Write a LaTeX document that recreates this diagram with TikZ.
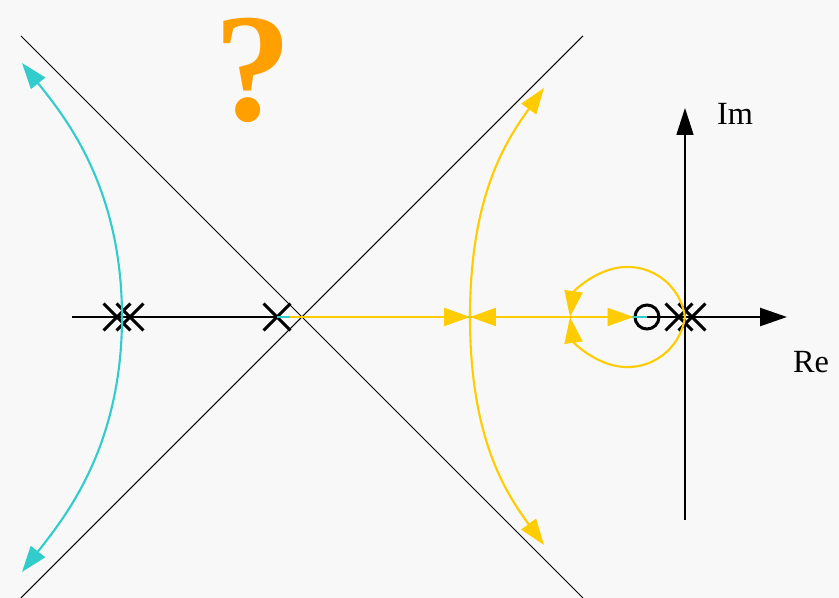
\documentclass[tikz,border=0pt]{standalone}
\usepackage{fontspec}
\setmainfont{Liberation Serif}
\usepackage{tikz}
\usetikzlibrary{arrows.meta,shapes.misc}
\definecolor{rl-bg}{HTML}{F8F8F8}
\definecolor{rl-cyan}{HTML}{33CCCC}
\definecolor{rl-yellow}{HTML}{FFCC00}
\definecolor{rl-orange}{HTML}{FF9F00}

\begin{document}
\begin{tikzpicture}[x=0.02cm, y=0.02cm,
    pole/.style={draw, cross out, line width=1.7pt, minimum size=0.48cm, inner sep=0pt},
    zero/.style={draw, circle, line width=1.7pt, minimum size=0.48cm, inner sep=0pt},
    branch/.style={line width=1.2pt, -{Triangle[length=0.52cm, width=0.36cm]}},
    axislabel/.style={font=\fontsize{18.4}{22}\selectfont, anchor=base}]
    \fill[rl-bg] (-685,-281) rectangle (154,317);
    \useasboundingbox (-685,-281) rectangle (154,317);

    % asymptotes
    \draw[line width=0.6pt] (-664,281) -- (-102,-281);
    \draw[line width=0.6pt] (-102,281) -- (-664,-281);

    % axes
    \draw[line width=1.4pt, -{Triangle[length=0.54cm, width=0.36cm]}] (-613,0) -- (102,0);
    \draw[line width=0.9pt, -{Triangle[length=0.54cm, width=0.34cm]}] (0,-203) -- (0,209);
    \node[axislabel] (im) at (50,192) {Im};
    \node[axislabel] (re) at (126,-56) {Re};

    % poles and zero
    \node[pole] (p1) at (-568,0) {};
    \node[pole] (p2) at (-555,0) {};
    \node[pole] (p3) at (-408,0) {};
    \node[pole] (p4) at (-6,0) {};
    \node[pole] (p5) at (7,0) {};
    \node[zero] (z) at (-38,0) {};

    \coordinate (o) at (0,0);
    \coordinate (bA) at (-563,0);
    \coordinate (bB) at (-215,0);
    \coordinate (bC) at (-115,0);
    \coordinate (ys) at (-395,0);
    \coordinate (ct) at (-663,254);
    \coordinate (cb) at (-663,-255);
    \coordinate (yt) at (-141,229);
    \coordinate (yb) at (-141,-228);

    % real axis branches
    \draw[rl-cyan, line width=1.2pt] (p3.center) -- (z.center);
    \draw[rl-yellow, branch] (ys) -- (bB);
    \draw[rl-yellow, branch] (bC) -- (bB);
    \draw[rl-yellow, branch] (bC) -- (z.west);

    % complex branches
    \draw[rl-cyan, branch] (bA) .. controls (-563,130) and (-620,200) .. (ct);
    \draw[rl-cyan, branch] (bA) .. controls (-563,-130) and (-620,-200) .. (cb);
    \draw[rl-yellow, branch] (bB) .. controls (-215,120) and (-180,175) .. (yt);
    \draw[rl-yellow, branch] (bB) .. controls (-215,-120) and (-180,-175) .. (yb);
    \draw[rl-yellow, branch] (o) arc[start angle=7.9, end angle=172.1, radius=58.05];
    \draw[rl-yellow, branch] (o) arc[start angle=-7.9, end angle=-172.1, radius=58.05];

    \node[text=rl-orange, inner sep=0pt, font=\fontsize{88}{88}\selectfont\bfseries, anchor=base] (qm) at (-432,196) {?};
\end{tikzpicture}
\end{document}
